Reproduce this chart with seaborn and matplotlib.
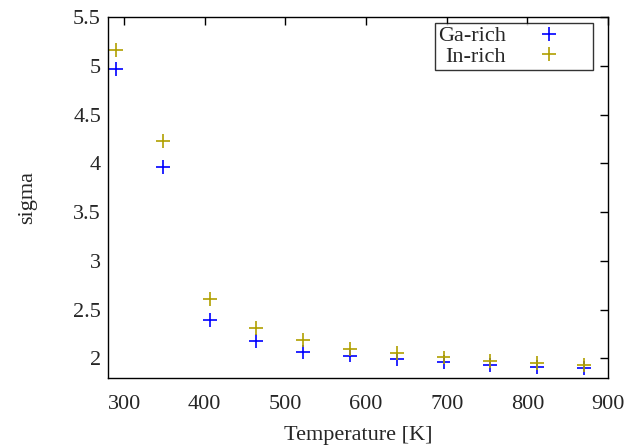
import numpy as np
import pandas as pd
import matplotlib
matplotlib.use('Agg')
import matplotlib.pyplot as plt
import seaborn as sns

# data
temperature = [290, 348, 406, 464, 522, 580, 638, 696, 754, 812, 870]
ga_rich = [4.97, 3.96, 2.39, 2.18, 2.07, 2.03, 1.99, 1.96, 1.93, 1.91, 1.90]
in_rich = [5.16, 4.23, 2.61, 2.31, 2.19, 2.10, 2.06, 2.01, 1.97, 1.95, 1.93]
series = ['Ga-rich', 'In-rich']
colors = ['#0000ff', '#b0a000']
x_ticks = [300, 400, 500, 600, 700, 800, 900]
y_ticks = [2, 2.5, 3, 3.5, 4, 4.5, 5, 5.5]
y_ticklabels = ['2', '2.5', '3', '3.5', '4', '4.5', '5', '5.5']

sns.set_style('white')
plt.rcParams['font.family'] = ['Liberation Serif', 'DejaVu Serif']
plt.rcParams['font.size'] = 16

df = pd.DataFrame({
    'Temperature': temperature * 2,
    'sigma': ga_rich + in_rich,
    'series': [series[0]] * len(temperature) + [series[1]] * len(temperature),
})

fig = plt.figure(figsize=(6.29, 4.47), dpi=100)
ax = fig.add_axes([0.1717, 0.1544, 0.795, 0.8076])

sns.scatterplot(data=df, x='Temperature', y='sigma', hue='series', style='series',
                markers={'Ga-rich': '+', 'In-rich': '+'}, palette=dict(zip(series, colors)),
                s=100, linewidth=1.2, ax=ax)

ax.set_xlim(280, 900)
ax.set_ylim(1.8, 5.5)
ax.set_xticks(x_ticks)
ax.set_yticks(y_ticks)
ax.set_yticklabels(y_ticklabels)
ax.tick_params(direction='in', length=6, width=1, top=True, right=True,
               labelsize=16, pad=5, color='black')
ax.tick_params(axis='x', pad=12)
for sp in ax.spines.values():
    sp.set_color('black')
    sp.set_linewidth(1)

ax.set_xlabel('Temperature [K]', fontsize=16, labelpad=9)
ax.set_ylabel('sigma', fontsize=16, labelpad=26)

leg = ax.legend(loc='upper right', markerfirst=False, frameon=True, fancybox=False,
                edgecolor='black', fontsize=16, borderpad=0.12, labelspacing=0.0,
                handletextpad=0.1, handlelength=3.7, borderaxespad=0.0,
                bbox_to_anchor=(0.97, 0.983))
leg.get_frame().set_linewidth(1)
for h in leg.legend_handles:
    h.set_markersize(10)
    h.set_markeredgewidth(1.2)

fig.savefig('out.png', dpi=100)
